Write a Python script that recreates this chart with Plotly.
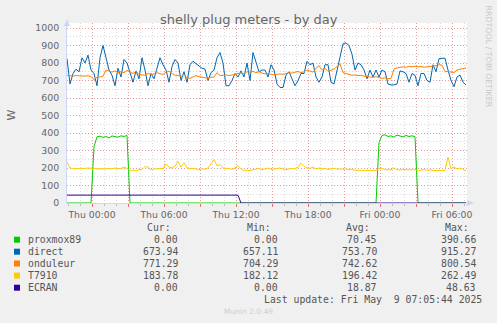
import plotly.graph_objects as go
from datetime import datetime, timedelta

# ---------------- data ----------------
start_time = datetime(2025, 5, 7, 21, 55)
step_minutes = 15

series_names = ["proxmox89", "direct", "onduleur", "T7910", "ECRAN"]
series_colors = ["#00CC00", "#0066B3", "#FF8000", "#FFCC00", "#330099"]

proxmox89 = [
    0, 0, 0, 0, 0, 0, 0, 0, 0, 322,
    378, 382, 375, 380, 372, 383, 378, 376, 384, 380,
    386, 0, 0, 0, 0, 0, 0, 0, 0, 0,
    0, 0, 0, 0, 0, 0, 0, 0, 0, 0,
    0, 0, 0, 0, 0, 0, 0, 0, 0, 0,
    0, 0, 0, 0, 0, 0, 0, 0, 0, 0,
    0, 0, 0, 0, 0, 0, 0, 0, 0, 0,
    0, 0, 0, 0, 0, 0, 0, 0, 0, 0,
    0, 0, 0, 0, 0, 0, 0, 0, 0, 0,
    0, 0, 0, 0, 0, 0, 0, 0, 0, 0,
    0, 0, 0, 0, 345, 386, 390, 380, 384, 376,
    388, 382, 378, 386, 380, 384, 379, 0, 0, 0,
    0, 0, 0, 0, 0, 0, 0, 0, 0, 0,
    0, 0, 0, 0,
]

direct = [
    825, 680, 740, 765, 750, 830, 800, 845, 760, 740,
    670, 830, 900, 830, 760, 730, 670, 770, 720, 820,
    800, 745, 690, 755, 710, 830, 760, 670, 740, 710,
    770, 830, 790, 760, 690, 780, 820, 800, 700, 750,
    690, 790, 810, 795, 780, 770, 765, 700, 745, 760,
    830, 860, 800, 670, 670, 700, 740, 720, 755, 720,
    800, 700, 860, 800, 750, 760, 760, 720, 790, 760,
    680, 660, 660, 730, 750, 710, 670, 700, 740, 740,
    810, 790, 800, 720, 690, 720, 790, 790, 690, 680,
    760, 840, 910, 915, 900, 850, 760, 800, 790, 760,
    710, 760, 720, 760, 720, 760, 750, 680, 675, 675,
    680, 755, 750, 740, 690, 740, 730, 670, 740, 740,
    700, 690, 790, 750, 825, 827, 827, 760, 700, 665,
    720, 731, 690, 674,
]

onduleur = [
    730, 728, 725, 728, 726, 728, 725, 727, 722, 705,
    718, 720, 725, 760, 752, 748, 755, 745, 750, 745,
    758, 748, 740, 752, 735, 732, 730, 740, 735, 738,
    745, 738, 735, 748, 752, 740, 730, 728, 722, 735,
    715, 712, 722, 728, 722, 720, 715, 712, 718, 720,
    745, 728, 730, 732, 728, 730, 735, 740, 742, 738,
    750, 748, 752, 745, 750, 742, 738, 740, 735, 732,
    735, 738, 735, 740, 745, 742, 748, 752, 745, 750,
    760, 755, 748, 770, 785, 760, 770, 752, 758, 765,
    780, 795, 745, 738, 735, 730, 732, 728, 730, 725,
    722, 720, 718, 722, 715, 712, 715, 710, 712, 765,
    772, 775, 778, 776, 780, 778, 782, 778, 780, 776,
    778, 782, 780, 785, 790, 788, 750, 752, 748, 745,
    760, 762, 768, 771,
]

t7910 = [
    235, 200, 198, 195, 197, 196, 198, 200, 198, 198,
    196, 195, 196, 195, 197, 196, 200, 195, 198, 205,
    198, 186, 188, 185, 190, 192, 208, 205, 190, 195,
    195, 198, 196, 225, 205, 200, 210, 238, 205, 230,
    200, 195, 198, 193, 190, 196, 192, 200, 225, 248,
    212, 220, 200, 195, 198, 192, 200, 215, 195, 186,
    188, 185, 190, 192, 198, 190, 195, 200, 192, 196,
    198, 200, 195, 190, 195, 198, 194, 205, 228, 210,
    200, 198, 205, 195, 200, 194, 198, 192, 195, 198,
    193, 196, 192, 195, 190, 194, 187, 186, 186, 186,
    186, 186, 186, 186, 195, 200, 190, 188, 190, 200,
    190, 188, 192, 190, 188, 190, 190, 186, 188, 192,
    186, 190, 186, 185, 185, 185, 188, 262, 196, 205,
    195, 200, 192, 184,
]

ecran = [
    45, 45, 45, 45, 45, 45, 45, 45, 45, 45,
    45, 45, 45, 45, 45, 45, 45, 45, 45, 45,
    45, 45, 45, 45, 45, 45, 45, 45, 45, 45,
    45, 45, 45, 45, 45, 45, 45, 45, 45, 45,
    45, 45, 45, 45, 45, 45, 45, 45, 45, 45,
    45, 45, 45, 45, 48.6, 45, 45, 44, 0, 0,
    0, 0, 0, 0, 0, 0, 0, 0, 0, 0,
    0, 0, 0, 0, 0, 0, 0, 0, 0, 0,
    0, 0, 0, 0, 0, 0, 0, 0, 0, 0,
    0, 0, 0, 0, 0, 0, 0, 0, 0, 0,
    0, 0, 0, 0, 0, 0, 0, 0, 0, 0,
    0, 0, 0, 0, 0, 0, 0, 0, 0, 0,
    0, 0, 0, 0, 0, 0, 0, 0, 0, 0,
    0, 0, 0, 0,
]

cur_values = [0.00, 673.94, 771.29, 183.78, 0.00]
min_values = [0.00, 657.11, 704.29, 182.12, 0.00]
avg_values = [70.45, 753.70, 742.62, 196.42, 18.87]
max_values = [390.66, 915.27, 800.54, 262.49, 48.63]

x_tick_values = [
    "2025-05-08 00:00", "2025-05-08 03:00", "2025-05-08 06:00", "2025-05-08 09:00",
    "2025-05-08 12:00", "2025-05-08 15:00", "2025-05-08 18:00", "2025-05-08 21:00",
    "2025-05-09 00:00", "2025-05-09 03:00", "2025-05-09 06:00",
]
x_tick_labels = [
    "Thu 00:00", "", "Thu 06:00", "", "Thu 12:00", "", "Thu 18:00", "",
    "Fri 00:00", "", "Fri 06:00",
]
y_tick_values = [0, 100, 200, 300, 400, 500, 600, 700, 800, 900, 1000]

title_text = "shelly plug meters - by day"
y_title = "W"
last_update_text = "Last update: Fri May \u00a09 07:05:44 2025"
side_text = "RRDTOOL / TOBI OETIKER"
footer_text = "Munin 2.0.49"

# ---------------- figure ----------------
W, H = 497, 323
L, R, T, B = 67, 30, 23, 120
plot_w = W - L - R
plot_h = H - T - B


def px_x(px):
    return (px - L) / plot_w


def px_y(py):
    return (H - B - py) / plot_h


times = [start_time + timedelta(minutes=step_minutes * i) for i in range(len(direct))]
all_series = [proxmox89, direct, onduleur, t7910, ecran]

fig = go.Figure()
for name, color, vals in zip(series_names, series_colors, all_series):
    fig.add_trace(go.Scatter(x=times, y=vals, mode="lines", name=name,
                             line=dict(color=color, width=1), hoverinfo="skip"))

MAJOR = "rgba(225,110,110,0.55)"
MINOR = "rgba(170,170,170,0.45)"
AXIS = "#CFD6F8"
FONT = "#666666"

fig.update_layout(
    width=W, height=H,
    margin=dict(l=L, r=R, t=T, b=B, pad=0),
    paper_bgcolor="#F0F0F0", plot_bgcolor="#FFFFFF",
    showlegend=False,
    font=dict(family="DejaVu Sans", color=FONT, size=9.4),
)

fig.update_xaxes(
    type="date",
    range=[start_time, datetime(2025, 5, 9, 7, 15)],
    tickmode="array", tickvals=x_tick_values, ticktext=x_tick_labels,
    showgrid=True, gridcolor=MAJOR, griddash="1px,2px", gridwidth=1,
    ticks="outside", ticklen=3, tickcolor="rgba(225,90,90,0.8)",
    showline=True, linecolor=AXIS, linewidth=1,
    zeroline=False, layer="below traces",
    tickfont=dict(size=9.3, color=FONT),
    minor=dict(dtick=3600000, tick0="2025-05-08 00:00", showgrid=True,
               gridcolor=MINOR, griddash="1px,2px", ticks="outside",
               ticklen=2, tickcolor="#BBBBBB"),
)
fig.update_yaxes(
    range=[0, 1000 * plot_h / 175.0],
    tickmode="array", tickvals=y_tick_values,
    showgrid=True, gridcolor=MAJOR, griddash="1px,2px", gridwidth=1,
    ticks="", ticklabelstandoff=5,
    showline=True, linecolor=AXIS, linewidth=1,
    zeroline=False, layer="below traces",
    tickfont=dict(size=9.4, color=FONT),
    minor=dict(dtick=50, tick0=0, showgrid=True, gridcolor=MINOR, griddash="1px,2px"),
)

shapes = []
# axis arrows
shapes.append(dict(type="path", xref="paper", yref="paper",
                   path=f"M {px_x(67)} {px_y(19)} L {px_x(64)} {px_y(26)} L {px_x(70)} {px_y(26)} Z",
                   fillcolor=AXIS, line=dict(width=0)))
shapes.append(dict(type="path", xref="paper", yref="paper",
                   path=f"M {px_x(474)} {px_y(203)} L {px_x(467)} {px_y(200)} L {px_x(467)} {px_y(206)} Z",
                   fillcolor=AXIS, line=dict(width=0)))

annotations = []
annotations.append(dict(text=title_text, x=px_x(248.5), y=px_y(19.5), xref="paper", yref="paper",
                        xanchor="center", yanchor="middle", showarrow=False,
                        font=dict(size=13, color=FONT, family="DejaVu Sans")))
annotations.append(dict(text=y_title, x=px_x(11), y=px_y(114.5), xref="paper", yref="paper",
                        xanchor="center", yanchor="middle", showarrow=False, textangle=-90,
                        font=dict(size=11, color=FONT, family="DejaVu Sans")))
annotations.append(dict(text=side_text, x=px_x(488.5), y=px_y(56), xref="paper", yref="paper",
                        xanchor="center", yanchor="middle", showarrow=False, textangle=90,
                        font=dict(size=7.9, color="#C8C8C8", family="DejaVu Sans")))
annotations.append(dict(text=footer_text, x=px_x(248.5), y=px_y(311.7), xref="paper", yref="paper",
                        xanchor="center", yanchor="middle", showarrow=False,
                        font=dict(size=7.5, color="#CFCFCF", family="DejaVu Sans")))

MONO = dict(family="DejaVu Sans Mono", size=9.8, color="#555555")
header_y = 227.5
row_ys = [239.7, 251.7, 263.5, 275.6, 287.7]
col_rights = [179, 279, 377.7, 476.7]
headers = ["Cur:", "Min:", "Avg:", "Max:"]
for hdr, cr in zip(headers, col_rights):
    annotations.append(dict(text=hdr, x=px_x(cr - 6), y=px_y(header_y), xref="paper", yref="paper",
                            xanchor="right", yanchor="middle", showarrow=False, font=MONO))

for k, name in enumerate(series_names):
    ry = row_ys[k]
    shapes.append(dict(type="rect", xref="paper", yref="paper",
                       x0=px_x(14), x1=px_x(20), y0=px_y(ry - 3), y1=px_y(ry + 3),
                       fillcolor=series_colors[k], line=dict(width=0)))
    annotations.append(dict(text=name, x=px_x(25.5), y=px_y(ry), xref="paper", yref="paper",
                            xanchor="left", yanchor="middle", showarrow=False, font=MONO))
    for vals, cr in zip([cur_values, min_values, avg_values, max_values], col_rights):
        annotations.append(dict(text=f"{vals[k]:.2f}", x=px_x(cr + 1), y=px_y(ry), xref="paper",
                                yref="paper", xanchor="right", yanchor="middle", showarrow=False,
                                font=MONO))

annotations.append(dict(text=last_update_text, x=px_x(483.5), y=px_y(299.5), xref="paper", yref="paper",
                        xanchor="right", yanchor="middle", showarrow=False, font=MONO))

fig.update_layout(shapes=shapes, annotations=annotations)

fig.write_html("out.html")
